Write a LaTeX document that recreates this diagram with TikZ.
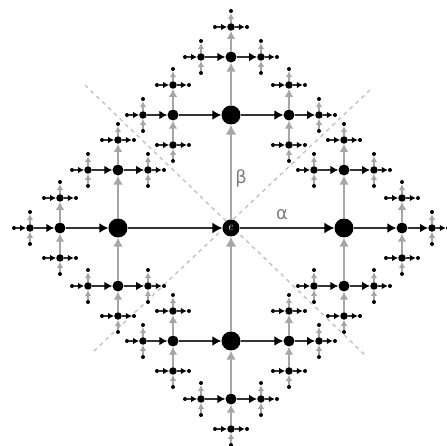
\documentclass[tikz,border=0pt]{standalone}
\usepackage{fontspec}
\newfontfamily\greekfont{DejaVu Sans}
\usetikzlibrary{arrows.meta}

\tikzset{
  root/.style={circle, fill=black, inner sep=0pt, minimum size=17pt, text=white, font=\large},
  lvl/.style={circle, fill=black, inner sep=0pt, minimum size=#1},
  alpha/.style={black!80, line width=1.5pt, -{Latex[length=#1, width=1.1*#1, black]}},
  beta/.style={gray!70, line width=1.8pt, -{Latex[length=#1, width=1.1*#1]}},
  axis/.style={gray!50, dash pattern=on 4pt off 4pt, line width=1.3pt},
  glabel/.style={gray, font=\greekfont\fontsize{18}{18}\selectfont}
}

% grow the tree: #1 parent node, #2 level of the children, #3 way back to the parent
\newcommand\sprout[3]{%
  \ifnum#2<5
    \ifcase#2\or
      \def\seglen{113}\def\nodesize{19pt}\def\tipsize{10pt}\or
      \def\seglen{58}\def\nodesize{11pt}\def\tipsize{9pt}\or
      \def\seglen{30}\def\nodesize{7.5pt}\def\tipsize{8pt}\or
      \def\seglen{16}\def\nodesize{4pt}\def\tipsize{6pt}\fi
    \foreach \d in {0,1,2,3}{%
      \ifnum\d=#3\else
        \edef\kid{#1-\d}%
        \ifcase\d \def\vx{1}\def\vy{0}\or \def\vx{0}\def\vy{1}\or
          \def\vx{-1}\def\vy{0}\or \def\vx{0}\def\vy{-1}\fi
        \node[lvl=\nodesize] (\kid) at ([shift={({\vx*\seglen},{\vy*\seglen})}]#1.center) {};
        \ifcase\d \draw[alpha=\tipsize] (#1) -- (\kid);
        \or \draw[beta=\tipsize] (#1) -- (\kid);
        \or \draw[alpha=\tipsize] (\kid) -- (#1);
        \or \draw[beta=\tipsize] (\kid) -- (#1);
        \fi
        \pgfmathtruncatemacro\nxt{#2+1}%
        \pgfmathtruncatemacro\back{mod(\d+2,4)}%
        \edef\growon{\noexpand\sprout{\kid}{\nxt}{\back}}%
        \growon
      \fi
    }%
  \fi}

\begin{document}
\begin{tikzpicture}[x=1pt, y=1pt]
  \useasboundingbox (-231,-218) rectangle (216,228);

  % diagonals
  \draw[axis] (-146,143) -- (136,-129);
  \draw[axis] (139,138) -- (-138,-124);

  % the tree
  \node[root] (e) at (0,0) {$e$};
  \sprout{e}{1}{9}

  % generators
  \node[glabel] (alab) at (51,13) {α};
  \node[glabel] (blab) at (10,50) {β};
\end{tikzpicture}
\end{document}
